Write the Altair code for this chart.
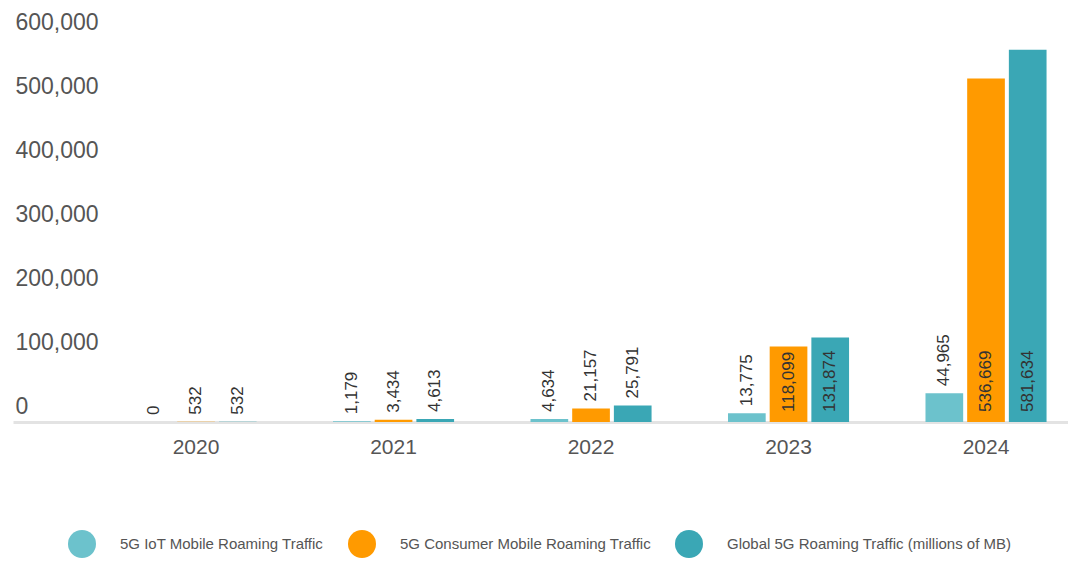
import altair as alt
import pandas as pd

FONT = "Liberation Sans"

years = ["2020", "2021", "2022", "2023", "2024"]
series_names = [
    "5G IoT Mobile Roaming Traffic",
    "5G Consumer Mobile Roaming Traffic",
    "Global 5G Roaming Traffic (millions of MB)",
]
iot = [0, 1179, 4634, 13775, 44965]
consumer = [532, 3434, 21157, 118099, 536669]
global_5g = [532, 4613, 25791, 131874, 581634]
colors = ["#6cc2cc", "#ff9a00", "#3aa7b5"]
y_ticks = [0, 100000, 200000, 300000, 400000, 500000, 600000]

rows = []
for name, vals in zip(series_names, [iot, consumer, global_5g]):
    for y, v in zip(years, vals):
        rows.append({"year": y, "series": name, "value": v, "zero": 0})
df = pd.DataFrame(rows)

y_axis = alt.Axis(
    values=y_ticks,
    labelExpr="format(datum.value, ',')",
    grid=False,
    domain=False,
    ticks=False,
    labelAlign="left",
    labelBaseline="alphabetic",
    labelPadding=-2,
    labelOffset=-9,
    labelFlush=False,
    labelOverlap=False,
    labelFont=FONT,
    labelFontSize=23,
    labelColor="#555555",
)
y_scale = alt.Scale(domain=[0, 600000], nice=False)

base = alt.Chart(df).encode(
    x=alt.X(
        "year:N",
        sort=years,
        title=None,
        scale=alt.Scale(paddingInner=0.387, paddingOuter=0.3645, align=0.851, round=False),
        axis=alt.Axis(
            labelAngle=0,
            ticks=False,
            domainColor="#e3e3e3",
            domainWidth=3,
            labelFont=FONT,
            labelFontSize=21,
            labelColor="#555555",
            labelPadding=14,
        ),
    ),
    xOffset=alt.XOffset(
        "series:N",
        sort=series_names,
        scale=alt.Scale(paddingInner=0.096, paddingOuter=0),
    ),
)

bars = base.mark_bar().encode(
    y=alt.Y("value:Q", title=None, scale=y_scale, axis=y_axis),
    color=alt.Color(
        "series:N",
        sort=series_names,
        scale=alt.Scale(domain=series_names, range=colors),
        legend=alt.Legend(
            title=None,
            orient="none",
            direction="horizontal",
            legendX=55,
            legendY=492,
            symbolType="circle",
            symbolSize=784,
            symbolStrokeWidth=0,
            labelFont=FONT,
            labelFontSize=15,
            labelColor="#555555",
            labelOffset=24,
            labelLimit=0,
            columnPadding=24,
            padding=0,
        ),
    ),
)

labels_out = base.transform_filter("datum.value < 100000").mark_text(
    angle=270, align="left", baseline="middle", dx=7,
    font=FONT, fontSize=17, color="#333333",
).encode(
    y=alt.Y("value:Q", title=None, scale=y_scale, axis=y_axis),
    text=alt.Text("value:Q", format=","),
)

labels_in = base.transform_filter("datum.value >= 100000").mark_text(
    angle=270, align="left", baseline="middle", dx=10,
    font=FONT, fontSize=17, color="#333333",
).encode(
    y=alt.Y("zero:Q", title=None, scale=y_scale, axis=y_axis),
    text=alt.Text("value:Q", format=","),
)

chart = (
    alt.layer(bars, labels_out, labels_in)
    .properties(
        width=1055,
        height=384,
        autosize=alt.AutoSizeParams(type="none"),
        padding={"left": 5, "top": 30, "right": 0, "bottom": 136},
    )
    .configure_view(stroke=None)
)

chart.save("out.html", embed_options={"renderer": "svg", "actions": False})
